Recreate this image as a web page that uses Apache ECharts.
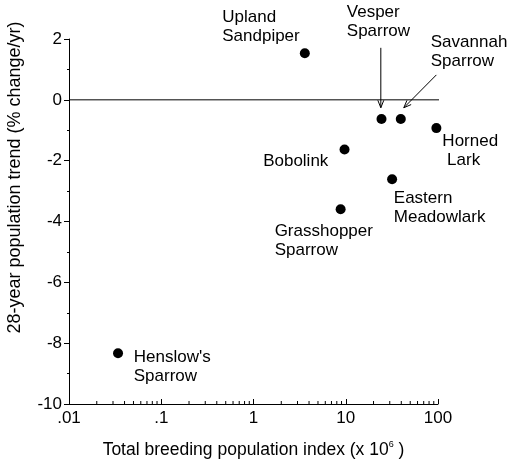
<!DOCTYPE html>
<html><head><meta charset="utf-8">
<script src="https://cdn.jsdelivr.net/npm/echarts@6/dist/echarts.min.js"></script>
<style>html,body{margin:0;padding:0;background:#fff}#c{width:514px;height:461px}</style>
</head><body><div id="c"></div>
<script>
// ---- data ----
const birdLabels = ['Upland\nSandpiper', 'Vesper\nSparrow', 'Savannah\nSparrow', 'Horned\n Lark', 'Bobolink', 'Eastern\nMeadowlark', 'Grasshopper\nSparrow', "Henslow's\nSparrow"];
const popIndex = [3.6, 24.4, 39.5, 96, 9.7, 31.8, 8.8, 0.034];
const trend = [1.53, -0.63, -0.63, -0.93, -1.63, -2.61, -3.6, -8.33];
const xTickValues = [0.01, 0.1, 1, 10, 100];
const xTickLabels = ['.01', '.1', '1', '10', '100'];
const xMinorTicks = [0.02,0.03,0.04,0.05,0.06,0.07,0.08,0.09,
  0.2,0.3,0.4,0.5,0.6,0.7,0.8,0.9,
  2,3,4,5,6,7,8,9,
  20,30,40,50,60,70,80,90];
const zeroLineX = [0.01, 113];
const arrowVesper = [24, 1.71, 24, -0.26];
const arrowSavannah = [96, 0.82, 42.6, -0.26];

// ---- layout / style ----
const FONT = "'Liberation Sans', Arial, Helvetica, sans-serif";
const labelOffsets = [[-77.6,-40.6],[-29.7,-110.7],[35,-81.3],[11,8.4],[-76.4,7.3],[6.7,14.7],[-61,17.4],[20.7,0]];

const chart = echarts.init(document.getElementById('c'), null, {renderer: 'canvas'});

const scatterData = birdLabels.map((name, i) => ({
  name: name,
  value: [popIndex[i], trend[i]],
  label: {show: true, position: labelOffsets[i], align: 'left', verticalAlign: 'top', formatter: name}
}));

function arrowItem(params, api) {
  const p1 = api.coord([api.value(0), api.value(1)]);
  const p2 = api.coord([api.value(2), api.value(3)]);
  const ang = Math.atan2(p2[1] - p1[1], p2[0] - p1[0]);
  const L = 8, a = 0.38;
  const h1 = [p2[0] - L * Math.cos(ang - a), p2[1] - L * Math.sin(ang - a)];
  const h2 = [p2[0] - L * Math.cos(ang + a), p2[1] - L * Math.sin(ang + a)];
  return {type: 'group', children: [
    {type: 'line', shape: {x1: p1[0], y1: p1[1], x2: p2[0], y2: p2[1]}, style: {stroke: '#000', lineWidth: 1}},
    {type: 'polyline', shape: {points: [h1, p2, h2]}, style: {stroke: '#000', lineWidth: 1, fill: null}}
  ]};
}

const option = {
  backgroundColor: '#fff',
  animation: false,
  textStyle: {fontFamily: FONT, color: '#000'},
  grid: {left: 69, right: 76, top: 39, bottom: 57, containLabel: false, outerBoundsMode: 'none'},
  xAxis: {
    type: 'log', logBase: 10, min: xTickValues[0], max: xTickValues[xTickValues.length - 1], splitNumber: 4,
    name: 'Total breeding population index (x 10{sup|6} )',
    nameLocation: 'middle', nameGap: 36,
    nameTextStyle: {fontFamily: FONT, fontSize: 17.5, color: '#000', lineHeight: 21,
      rich: {sup: {fontFamily: FONT, fontSize: 9, verticalAlign: 'top', lineHeight: 9, color: '#000'}}},
    axisLine: {show: true, onZero: false, lineStyle: {color: '#000', width: 1}},
    axisTick: {show: true, inside: true, length: 5, lineStyle: {color: '#000'}},
    axisLabel: {fontFamily: FONT, fontSize: 17, color: '#000', margin: 6,
      formatter: v => { const i = Math.round(Math.log10(v)) + 2; return xTickLabels[i] ?? ''; }},
    splitLine: {show: false}
  },
  yAxis: {
    type: 'value', min: -10, max: 2, interval: 2,
    name: '28-year population trend (% change/yr)',
    nameLocation: 'middle', nameGap: 45, nameRotate: 90,
    nameTextStyle: {fontFamily: FONT, fontSize: 18, color: '#000', padding: [0, 0, 0, 88]},
    axisLine: {show: true, onZero: false, lineStyle: {color: '#000', width: 1}},
    axisTick: {show: true, inside: false, length: 5, lineStyle: {color: '#000'}},
    minorTick: {show: true, splitNumber: 2, length: 2, lineStyle: {color: '#000'}},
    axisLabel: {fontFamily: FONT, fontSize: 17, color: '#000', margin: 7},
    splitLine: {show: false}
  },
  series: [
    {
      type: 'line', data: zeroLineX.map(x => [x, 0]), symbol: 'none', clip: false, silent: true,
      lineStyle: {color: '#000', width: 1}
    },
    {
      type: 'custom', coordinateSystem: 'cartesian2d', silent: true, clip: false,
      data: xMinorTicks.map(v => [v, -10]),
      renderItem: (params, api) => {
        const p = api.coord([api.value(0), api.value(1)]);
        return {type: 'line', shape: {x1: p[0], y1: p[1], x2: p[0], y2: p[1] - 3}, style: {stroke: '#000', lineWidth: 1}};
      }
    },
    {
      type: 'custom', coordinateSystem: 'cartesian2d', silent: true, clip: false,
      encode: {x: [0, 2], y: [1, 3]},
      data: [arrowVesper, arrowSavannah],
      renderItem: arrowItem
    },
    {
      type: 'scatter', symbol: 'circle', symbolSize: 10, clip: false,
      itemStyle: {color: '#000', opacity: 1},
      label: {fontFamily: FONT, fontSize: 17, lineHeight: 19, color: '#000', opacity: 1},
      data: scatterData
    }
  ]
};
chart.setOption(option);
</script>
</body></html>
